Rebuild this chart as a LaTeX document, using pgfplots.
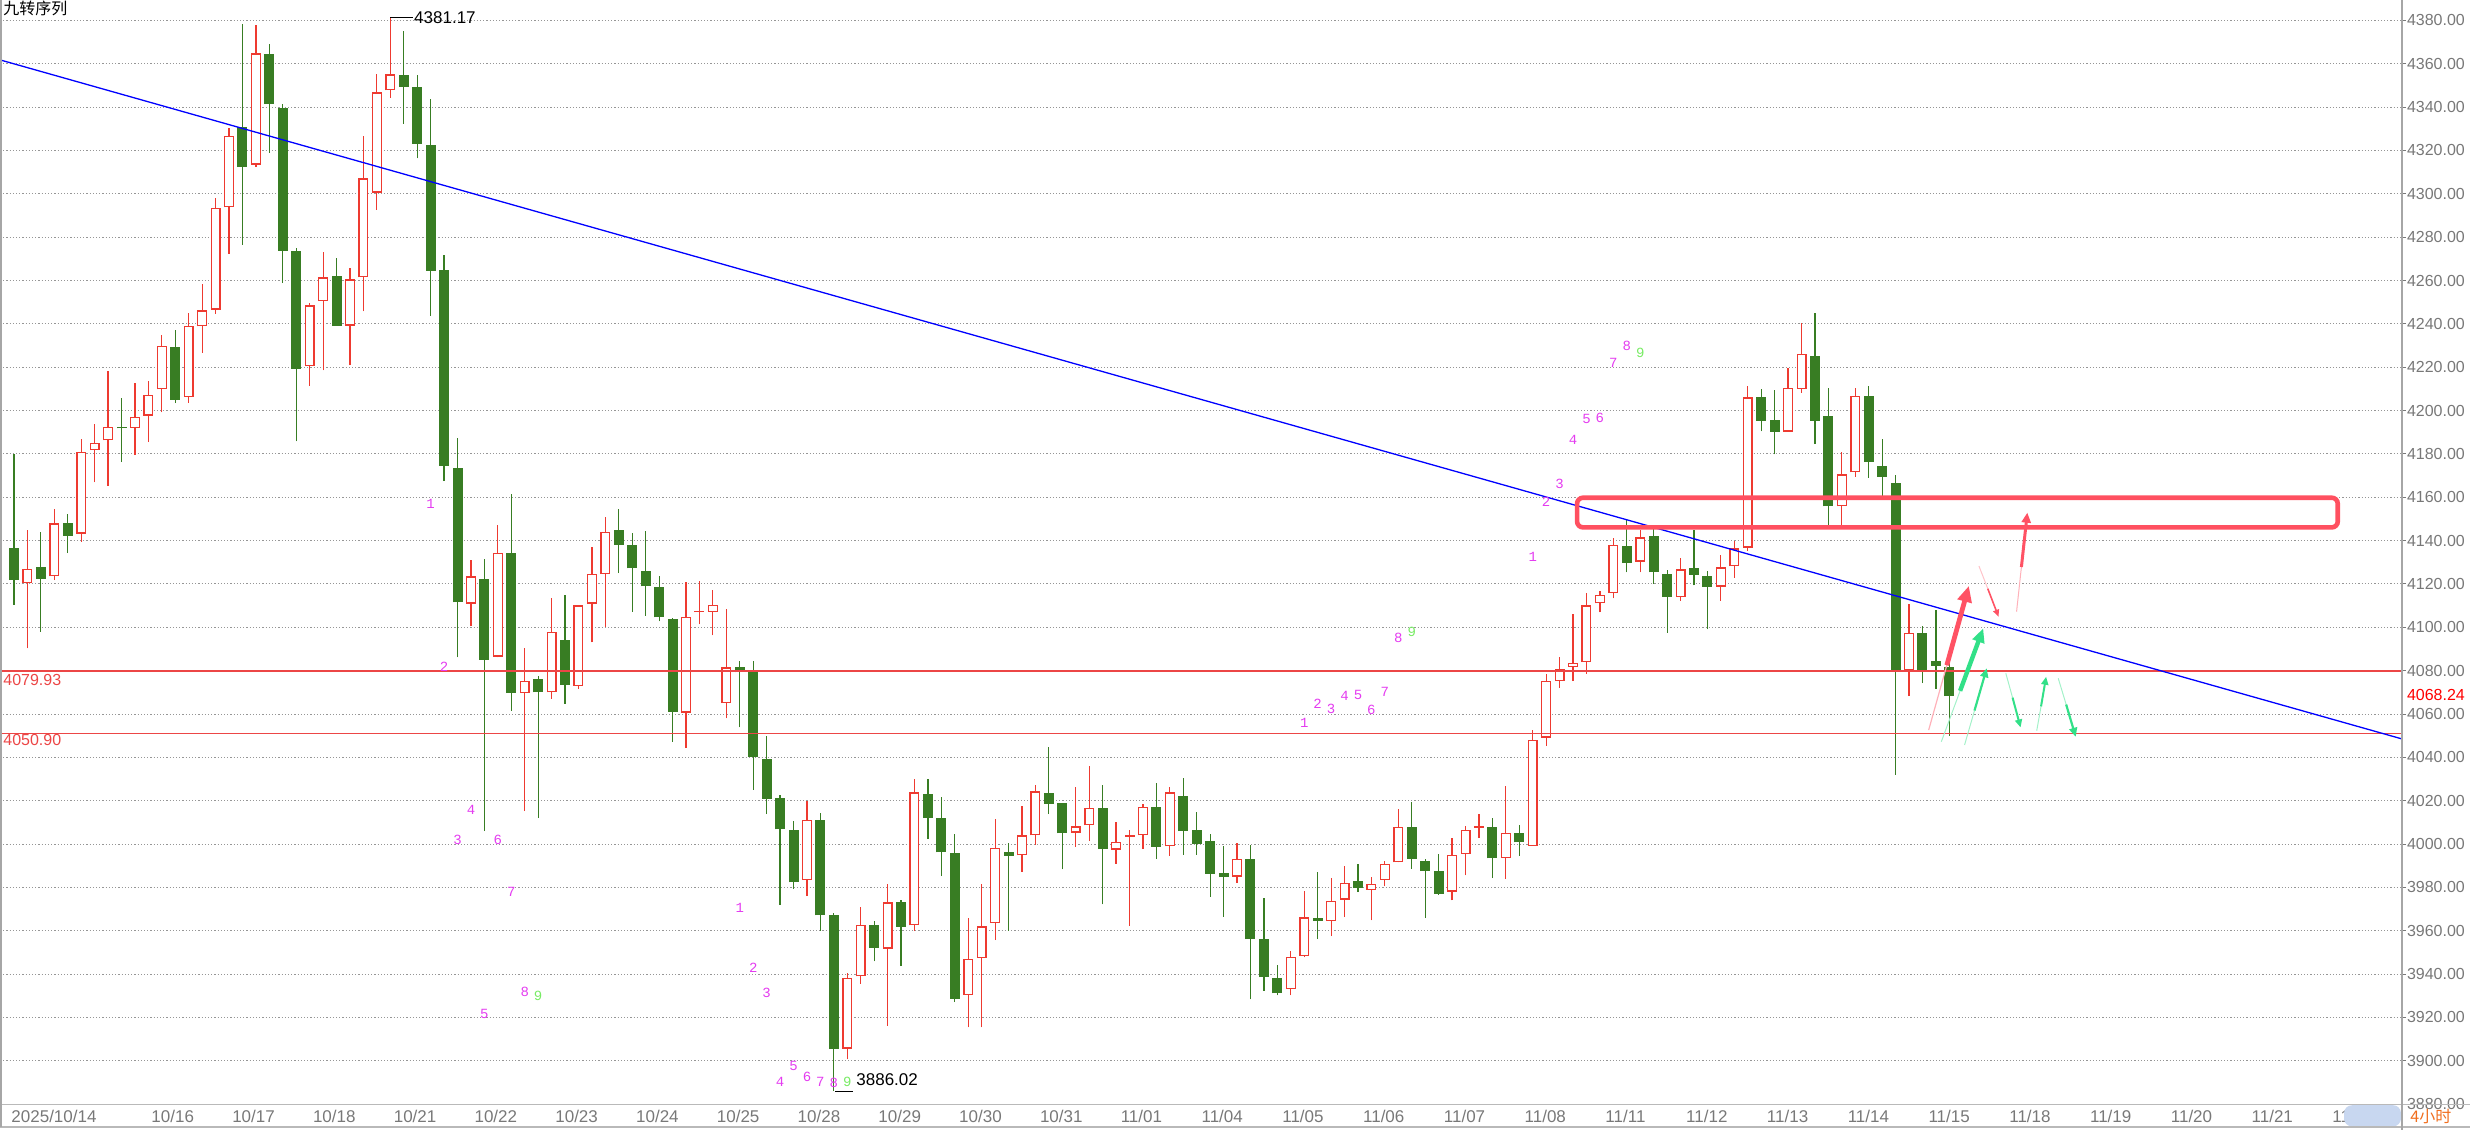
\documentclass[border=0pt]{standalone}
\usepackage{fontspec}
\setmainfont{Liberation Sans}
\newfontfamily\cjk{Noto Sans CJK SC}
\newfontfamily\monof{Liberation Mono}
\usepackage{pgfplots}
\pgfplotsset{compat=1.18}
\usepackage{pgfplotstable}
\usetikzlibrary{arrows.meta}

\definecolor{cgreen}{RGB}{56,125,35}
\definecolor{cred}{RGB}{238,58,48}
\definecolor{hred}{RGB}{236,70,70}
\definecolor{rectred}{RGB}{255,80,96}
\definecolor{arred}{RGB}{255,82,100}
\definecolor{argreen}{RGB}{50,224,136}
\definecolor{cmag}{RGB}{228,60,240}
\definecolor{cnine}{RGB}{120,235,100}
\definecolor{tickgray}{RGB}{120,120,120}
\definecolor{gridgray}{RGB}{150,150,150}
\definecolor{corange}{RGB}{240,110,30}
\definecolor{stripblue}{RGB}{200,215,240}

% bullish (red, hollow) candles: index open high low close
\pgfplotstableread{
i o h l c
2 4120.3 4144.9 4090.3 4127.1
4 4123.5 4154.8 4121.8 4148.0
6 4143.2 4186.9 4139.5 4181.1
7 4181.7 4193.7 4166.9 4185.2
8 4186.3 4218.3 4165.4 4192.6
10 4192.0 4212.6 4179.4 4197.2
11 4197.7 4213.5 4185.5 4207.1
12 4209.8 4235.0 4199.2 4230.0
14 4206.2 4245.0 4203.5 4239.0
15 4238.8 4258.5 4226.6 4246.2
16 4246.5 4298.2 4244.6 4293.5
17 4293.7 4330.2 4272.3 4326.9
19 4313.4 4377.8 4312.3 4364.8
23 4220.5 4249.7 4211.5 4248.6
24 4250.5 4273.2 4218.5 4261.5
26 4239.2 4265.8 4220.9 4260.6
27 4261.5 4326.6 4245.8 4307.2
28 4300.5 4355.2 4292.6 4346.8
29 4347.7 4381.17 4344.3 4355.1
35 4110.9 4131.1 4100.4 4123.5
37 4086.5 4147.0 4086.1 4134.3
39 4069.6 4090.4 4015.2 4075.2
41 4070.0 4113.5 4067.0 4097.8
43 4073.0 4110.2 4071.7 4110.2
44 4110.9 4137.2 4093.0 4124.6
45 4124.6 4150.7 4100.0 4143.9
51 4060.6 4120.8 4044.3 4104.7
52 4107.0 4121.5 4101.4 4107.7
53 4107.1 4117.2 4096.3 4110.4
54 4065.0 4108.4 4058.0 4081.6
60 3983.4 4020.0 3976.0 4011.3
63 3905.6 3940.6 3900.8 3938.4
64 3939.0 3970.9 3935.5 3962.6
66 3951.7 3981.4 3916.2 3973.1
68 3962.5 4029.8 3960.0 4023.8
72 3930.3 3965.7 3915.4 3946.9
73 3947.5 3981.4 3915.4 3962.0
74 3963.5 4011.5 3955.7 3998.3
76 3994.8 4017.7 3987.2 4004.0
77 4004.0 4027.1 3999.8 4024.3
80 4005.2 4026.5 3998.8 4008.2
81 4008.6 4036.0 4001.5 4016.6
83 3997.4 4010.0 3990.9 4000.9
84 4003.3 4006.3 3962.3 4004.0
85 4004.0 4018.5 3997.7 4017.1
87 3998.9 4026.2 3994.6 4023.8
92 3984.9 4000.6 3982.2 3993.2
96 3933.1 3950.8 3930.2 3948.0
97 3948.3 3978.3 3947.7 3966.2
99 3964.5 3984.5 3957.5 3973.8
100 3974.3 3990.0 3966.3 3982.2
102 3978.9 3984.8 3964.8 3981.5
103 3983.5 3992.0 3980.5 3990.9
104 3991.5 4016.0 3991.5 4008.0
108 3978.0 4002.9 3974.0 3995.1
109 3995.5 4008.5 3985.5 4006.5
110 4007.5 4014.0 4002.8 4008.2
112 3993.5 4026.9 3983.8 4005.1
114 3999.2 4052.8 3999.2 4048.2
115 4049.1 4078.5 4045.4 4075.3
116 4075.3 4086.2 4072.1 4081.0
117 4081.7 4106.1 4075.2 4083.7
118 4084.0 4115.8 4078.5 4110.1
119 4111.1 4116.9 4106.9 4115.1
120 4115.8 4141.2 4113.4 4138.0
122 4130.3 4144.8 4125.3 4141.5
125 4113.9 4131.8 4112.2 4126.8
128 4118.8 4133.5 4112.2 4127.6
129 4128.1 4140.0 4122.8 4136.5
130 4136.8 4211.3 4135.1 4206.1
133 4190.3 4219.5 4190.3 4210.5
134 4210.0 4240.3 4208.3 4226.3
137 4155.8 4181.1 4146.0 4170.6
138 4171.5 4210.2 4169.4 4206.9
142 4080.0 4110.6 4068.2 4097.4
}\upT

% bearish (green, filled) candles: index open high low close
\pgfplotstableread{
i o h l c
1 4136.5 4179.8 4110.3 4121.8
3 4127.7 4143.8 4098.0 4122.3
5 4148.0 4152.3 4134.2 4142.2
9 4192.6 4205.7 4176.2 4191.8
13 4229.5 4237.0 4203.4 4204.9
18 4330.8 4378.5 4276.5 4312.3
20 4364.5 4369.2 4318.9 4341.4
21 4339.7 4341.5 4258.8 4273.8
22 4273.7 4275.1 4185.8 4219.2
25 4262.3 4270.5 4239.2 4239.2
30 4354.6 4375.1 4332.3 4349.5
31 4349.4 4354.8 4316.3 4323.1
32 4322.5 4343.8 4243.8 4264.6
33 4264.8 4272.0 4167.4 4174.6
34 4173.5 4187.4 4086.1 4111.5
36 4122.2 4131.5 4006.0 4085.0
38 4134.3 4161.5 4061.5 4069.6
40 4076.3 4077.4 4012.0 4070.0
42 4094.1 4114.8 4064.8 4073.5
46 4145.0 4154.8 4125.0 4138.0
47 4137.8 4143.5 4107.2 4127.2
48 4126.1 4144.6 4105.4 4118.9
49 4118.7 4123.5 4102.8 4104.6
50 4103.7 4104.2 4047.1 4061.1
55 4081.6 4084.3 4053.8 4079.2
56 4080.0 4084.3 4025.1 4040.2
57 4039.1 4049.9 4013.8 4020.8
58 4021.1 4022.8 3971.9 4006.8
59 4006.7 4010.5 3979.2 3982.3
61 4011.3 4014.3 3960.0 3967.1
62 3967.4 3968.4 3886.02 3905.4
65 3962.6 3964.7 3945.9 3952.2
67 3973.1 3974.0 3943.7 3961.8
69 4022.9 4029.8 4002.3 4012.2
70 4012.0 4021.8 3985.2 3996.2
71 3995.7 4004.8 3927.1 3928.6
75 3996.3 4000.6 3960.0 3994.6
78 4023.4 4044.9 4013.8 4018.5
79 4018.8 4018.8 3988.3 4004.9
82 4016.6 4027.1 3972.2 3997.7
86 4017.2 4028.2 3993.1 3998.8
88 4022.3 4030.3 3995.1 4006.0
89 4006.3 4014.8 3995.1 4000.2
90 4001.5 4004.8 3975.8 3986.3
91 3986.5 3999.1 3966.5 3984.8
93 3993.2 3999.8 3928.3 3956.2
94 3956.3 3975.2 3932.3 3938.6
95 3938.3 3944.0 3930.2 3931.1
98 3965.7 3987.1 3956.2 3964.5
101 3982.8 3990.6 3977.8 3979.7
105 4007.7 4019.4 3988.6 3993.2
106 3992.0 3993.2 3965.8 3987.5
107 3987.4 3995.2 3976.6 3977.1
111 4007.7 4011.8 3984.3 3993.4
113 4005.1 4008.8 3994.5 4000.8
121 4137.6 4149.3 4125.3 4129.6
123 4142.2 4147.2 4120.1 4125.4
124 4124.6 4126.3 4097.4 4113.9
126 4127.3 4144.8 4119.4 4124.3
127 4123.6 4125.8 4099.0 4118.6
131 4206.1 4210.0 4190.4 4195.3
132 4195.5 4209.4 4179.8 4190.3
135 4225.2 4245.1 4184.5 4195.4
136 4197.7 4210.6 4146.6 4155.8
139 4206.5 4211.2 4168.9 4176.2
140 4174.3 4186.9 4160.2 4169.4
141 4166.6 4170.5 4032.0 4080.0
143 4097.4 4100.6 4074.3 4080.0
144 4084.6 4108.2 4071.7 4082.3
145 4081.5 4084.0 4050.0 4068.24
}\downT

% TD sequence counts (magenta 1-8)
\pgfplotstableread{
i p t
32 4157.0 1
33 4082.0 2
34 4002.0 3
35 4016.0 4
36 3921.4 5
37 4002.0 6
38 3978.0 7
39 3932.0 8
55 3970.4 1
56 3942.8 2
57 3931.5 3
58 3890.5 4
59 3897.5 5
60 3892.6 6
61 3890.2 7
62 3890.0 8
97 4055.8 1
98 4064.8 2
99 4062.2 3
100 4068.2 4
101 4068.6 5
102 4062.0 6
103 4070.0 7
104 4095.0 8
114 4132.3 1
115 4157.7 2
116 4166.0 3
117 4186.4 4
118 4196.1 5
119 4196.6 6
120 4221.9 7
121 4229.7 8
}\tdT

% TD sequence count 9 (green)
\pgfplotstableread{
i p t
40 3930.0 9
63 3890.2 9
105 4097.8 9
122 4226.4 9
}\nineT

\begin{document}
\begin{tikzpicture}
\begin{axis}[
  at={(0pt,12.7pt)}, anchor=south west,
  scale only axis, width=1201pt, height=552.3pt,
  xmin=-0.0417, xmax=178.68, ymin=3879.8, ymax=4389.43,
  axis line style={draw=none},
  clip=false,
  ytick={3880,3900,...,4380},
  ytick pos=right, yticklabel pos=right,
  ymajorgrids,
  major grid style={gridgray, line width=0.5pt, dash pattern=on 0.6pt off 1pt},
  tick align=outside, major tick length=2pt,
  ytick style={tickgray, line width=0.5pt},
  scaled y ticks=false,
  /pgf/number format/assume math mode=true,
  yticklabel style={font=\fontsize{8}{10}\selectfont, text=tickgray, anchor=west, inner sep=0pt, xshift=0.3pt,
    /pgf/number format/fixed, /pgf/number format/fixed zerofill,
    /pgf/number format/precision=2, /pgf/number format/1000 sep={}},
  xtick={0.78,11.2,17.21,23.22,29.23,35.24,41.25,47.26,53.27,59.28,65.29,71.3,77.31,83.32,89.33,95.34,101.35,107.36,113.37,119.38,125.39,131.4,137.41,143.42,149.43,155.44,161.45,167.46,173.47},
  xticklabels={2025/10/14,10/16,10/17,10/18,10/21,10/22,10/23,10/24,10/25,10/28,10/29,10/30,10/31,11/01,11/04,11/05,11/06,11/07,11/08,11/11,11/12,11/13,11/14,11/15,11/18,11/19,11/20,11/21,11/22},
  xtick style={draw=none},
  xticklabel style={font=\fontsize{8.5}{10}\selectfont, text=tickgray, anchor=north west, inner sep=0pt, yshift=-0.5pt},
]

% green candles
\addplot[draw=none, forget plot, error bars/.cd, y dir=both, y explicit, error mark=none,
  error bar style={draw=cgreen, line width=0.6pt, solid}]
  table[x=i, y=l, y error plus expr=\thisrow{h}-\thisrow{l}, y error minus expr=0] {\downT};
\addplot[draw=none, forget plot, error bars/.cd, y dir=both, y explicit, error mark=none,
  error bar style={draw=cgreen, line width=5pt, solid}]
  table[x=i, y=c, y error plus expr=\thisrow{o}-\thisrow{c}, y error minus expr=0] {\downT};

% red candles
\addplot[draw=none, forget plot, error bars/.cd, y dir=both, y explicit, error mark=none,
  error bar style={draw=cred, line width=0.6pt, solid}]
  table[x=i, y=l, y error plus expr=\thisrow{h}-\thisrow{l}, y error minus expr=0] {\upT};
\addplot[draw=none, forget plot, error bars/.cd, y dir=both, y explicit, error mark=none,
  error bar style={draw=cred, line width=5pt, solid}]
  table[x=i, y=o, y error plus expr=\thisrow{c}-\thisrow{o}, y error minus expr=0] {\upT};
\addplot[draw=none, forget plot, error bars/.cd, y dir=both, y explicit, error mark=none,
  error bar style={draw=white, line width=3.7pt, solid}]
  table[x=i, y expr=\thisrow{o}+0.6, y error plus expr={max(\thisrow{c}-\thisrow{o}-1.2,0)}, y error minus expr=0] {\upT};

% support lines and trend line
\addplot[hred, line width=0.75pt, forget plot] coordinates {(-0.0417,4079.93) (178.68,4079.93)};
\addplot[hred, line width=0.75pt, forget plot] coordinates {(-0.0417,4050.90) (178.68,4050.90)};
\addplot[blue, line width=0.65pt, forget plot] coordinates {(-0.0417,4361.8) (178.68,4048.5)};

% resistance box
\addplot[rectred, line width=2.3pt, rounded corners=3pt, forget plot] coordinates {(145,4159.8) (173.9,4159.8) (173.9,4146.1) (117.3,4146.1) (117.3,4159.8) (145.5,4159.8)};

% arrows (tail, middle, tip)
\addplot[arred!45, line width=0.6pt, forget plot] coordinates {(143.46,4052.6) (144.81,4082.5)};
\addplot[arred, line width=2.4pt, -{Triangle[length=8pt,width=7pt]}, forget plot] coordinates {(144.81,4082.5) (146.45,4119.1)};
\addplot[arred!35, line width=0.5pt, forget plot] coordinates {(147.2,4128.3) (147.86,4117.8)};
\addplot[arred, line width=0.8pt, -{Triangle[length=3.5pt,width=3pt]}, forget plot] coordinates {(147.86,4117.8) (148.66,4104.9)};
\addplot[arred!45, line width=0.5pt, forget plot] coordinates {(150.0,4107.2) (150.36,4127.8)};
\addplot[arred, line width=1.5pt, -{Triangle[length=5pt,width=4.5pt]}, forget plot] coordinates {(150.36,4127.8) (150.8,4152.9)};
\addplot[argreen!45, line width=0.5pt, forget plot] coordinates {(144.4,4047.2) (145.8,4070.7)};
\addplot[argreen, line width=2.2pt, -{Triangle[length=7pt,width=6pt]}, forget plot] coordinates {(145.8,4070.7) (147.52,4099.5)};
\addplot[argreen!45, line width=0.5pt, forget plot] coordinates {(146.13,4045.7) (146.87,4061.6)};
\addplot[argreen, line width=1.1pt, -{Triangle[length=4.5pt,width=4pt]}, forget plot] coordinates {(146.87,4061.6) (147.78,4081.1)};
\addplot[argreen!45, line width=0.5pt, forget plot] coordinates {(149.2,4078.8) (149.7,4067.6)};
\addplot[argreen, line width=1pt, -{Triangle[length=4pt,width=3.5pt]}, forget plot] coordinates {(149.7,4067.6) (150.3,4053.8)};
\addplot[argreen!45, line width=0.5pt, forget plot] coordinates {(151.5,4052.3) (151.82,4063.5)};
\addplot[argreen, line width=1pt, -{Triangle[length=4pt,width=3.5pt]}, forget plot] coordinates {(151.82,4063.5) (152.2,4077.2)};
\addplot[argreen!45, line width=0.5pt, forget plot] coordinates {(153.1,4076.5) (153.69,4064.4)};
\addplot[argreen, line width=1.1pt, -{Triangle[length=4.5pt,width=4pt]}, forget plot] coordinates {(153.69,4064.4) (154.4,4049.5)};

% high / low markers
\addplot[black, line width=0.5pt, forget plot] coordinates {(29,4381.17) (30.7,4381.17)};
\addplot[black, line width=0.5pt, forget plot] coordinates {(62.1,3886.02) (63.4,3886.02)};
\addplot[draw=none, forget plot, nodes near coords, point meta=explicit symbolic,
  every node near coord/.append style={font=\fontsize{8.5}{10}\selectfont, text=black, anchor=west, inner sep=0pt}]
  table[x=i, y=p, meta=t] {
i p t
30.75 4381.3 4381.17
63.65 3891.3 3886.02
};
\addplot[draw=none, forget plot, nodes near coords, point meta=explicit symbolic,
  every node near coord/.append style={font=\fontsize{8}{10}\selectfont, text=hred, anchor=west, inner sep=0pt}]
  table[x=i, y=p, meta=t] {
i p t
0.18 4075.6 4079.93
0.18 4047.8 4050.90
};
\addplot[draw=none, forget plot, nodes near coords, point meta=explicit symbolic,
  every node near coord/.append style={font=\fontsize{8}{10}\selectfont, text=red, anchor=west, inner sep=0pt, xshift=2.3pt}]
  table[x=i, y=p, meta=t] {
i p t
178.68 4068.6 4068.24
};

% TD sequence numbers
\addplot[draw=none, forget plot, nodes near coords, point meta=explicit symbolic,
  every node near coord/.append style={font=\monof\fontsize{7}{8}\selectfont, text=cmag, anchor=center, inner sep=0pt}]
  table[x=i, y=p, meta=t] {\tdT};
\addplot[draw=none, forget plot, nodes near coords, point meta=explicit symbolic,
  every node near coord/.append style={font=\monof\fontsize{7}{8}\selectfont, text=cnine, anchor=center, inner sep=0pt}]
  table[x=i, y=p, meta=t] {\nineT};
\end{axis}

% frame
\fill[stripblue, rounded corners=4pt] (1172pt,1.8pt) rectangle (1200.5pt,12.4pt);
\draw[gray!55, line width=0.6pt] (0,12.7pt) -- (1235pt,12.7pt);
\draw[gray!55, line width=0.6pt] (0,1.5pt) -- (1235pt,1.5pt);
\draw[gray!70, line width=0.6pt] (1201pt,0) -- (1201pt,565pt);
\draw[gray!70, line width=1pt] (0.5pt,1.5pt) -- (0.5pt,565pt);
\node[anchor=west, inner sep=0pt, text=corange, font=\cjk\fontsize{8}{9}\selectfont] at (1205pt,6.8pt) {4小时};
\node[anchor=north west, inner sep=0pt, font=\cjk\fontsize{8}{9}\selectfont] at (1.5pt,564.6pt) {九转序列};
\pgfresetboundingbox
\path (0,0) rectangle (1235pt,565pt);
\end{tikzpicture}
\end{document}
